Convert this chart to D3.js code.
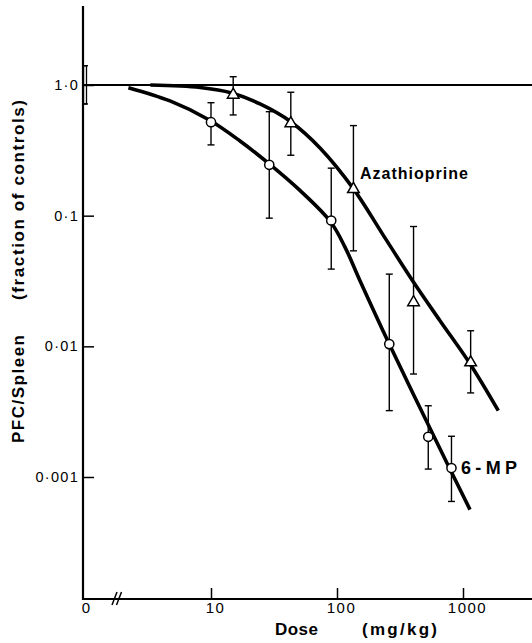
<!DOCTYPE html>
<html><head><meta charset="utf-8">
<script src="https://cdn.jsdelivr.net/npm/d3@7"></script>
<style>html,body{margin:0;padding:0;background:#fff;} svg{display:block;}</style>
</head><body><svg id="c" width="532" height="643"></svg>
<script>
// ---- data ----
const yTickValues = [1, 0.1, 0.01, 0.001];
const yTickLabels = ["1·0", "0·1", "0·01", "0·001"];
const xTickValues = [10, 100, 1000];
const xTickLabels = ["10", "100", "1000"];
const xZeroLabel = "0";

const controlValue = 1.0, controlLo = 0.716, controlHi = 1.405;

const azaDose  = [15, 43, 135, 405, 1150];
const azaValue = [0.84, 0.509, 0.1595, 0.0217, 0.00753];
const azaHi    = [1.157, 0.88, 0.489, 0.0826, 0.01316];
const azaLo    = [0.59, 0.29, 0.0538, 0.00614, 0.0044];

const mpDose  = [10, 29, 90, 260, 530, 810];
const mpValue = [0.519, 0.245, 0.0918, 0.0104, 0.00203, 0.00117];
const mpHi    = [0.732, 0.625, 0.231, 0.0357, 0.00351, 0.00205];
const mpLo    = [0.348, 0.0957, 0.039, 0.00322, 0.00115, 0.00065];

const azaCurveDose  = [3.3, 8.2, 14.6, 24.5, 42.9, 73.3, 134.7, 232, 403, 657, 1136, 1906];
const azaCurveValue = [1.0, 0.957, 0.869, 0.716, 0.524, 0.330, 0.161, 0.0713, 0.0312, 0.0157, 0.00736, 0.00322];
const mpCurveDose  = [2.21, 4.73, 9.69, 17.0, 29.0, 50.8, 89.1, 115.7, 152.2, 258.7, 588.6, 1136];
const mpCurveValue = [0.954, 0.755, 0.540, 0.373, 0.249, 0.156, 0.0895, 0.0575, 0.0318, 0.0105, 0.00204, 0.000563];

const azaLabel = "Azathioprine";
const mpLabel = "6-MP";
const yTitleA = "PFC/Spleen";
const yTitleB = "(fraction of controls)";
const xTitleA = "Dose";
const xTitleB = "(mg/kg)";

// ---- layout ----
const svg = d3.select("#c");
const axisX = 83, axisY = 599, topY = 6, rightX = 532;
const x = d3.scaleLog().domain([10, 1000]).range([211, 463]);
const y = d3.scaleLog().domain([0.001, 1]).range([477, 85]);
const xZero = 85;
const FONT = "'Liberation Sans', Arial, Helvetica, sans-serif";

// reference line at 1.0
svg.append("line").attr("x1", axisX).attr("x2", rightX)
  .attr("y1", y(1)).attr("y2", y(1)).attr("stroke", "#000").attr("stroke-width", 1.8);

// curves
const line = d3.line().x(d => x(d[0])).y(d => y(d[1])).curve(d3.curveCatmullRom.alpha(0.5));
svg.append("path").datum(azaCurveDose.map((d, i) => [d, azaCurveValue[i]]))
  .attr("d", line).attr("fill", "none").attr("stroke", "#000").attr("stroke-width", 3.6);
svg.append("path").datum(mpCurveDose.map((d, i) => [d, mpCurveValue[i]]))
  .attr("d", line).attr("fill", "none").attr("stroke", "#000").attr("stroke-width", 3.6);

// error bars
function errBars(dose, hi, lo) {
  const g = svg.append("g").attr("stroke", "#000").attr("stroke-width", 1.4);
  dose.forEach((d, i) => {
    const cx = x(d);
    g.append("line").attr("x1", cx).attr("x2", cx).attr("y1", y(hi[i])).attr("y2", y(lo[i]));
    g.append("line").attr("x1", cx - 3.5).attr("x2", cx + 3.5).attr("y1", y(hi[i])).attr("y2", y(hi[i]));
    g.append("line").attr("x1", cx - 3.5).attr("x2", cx + 3.5).attr("y1", y(lo[i])).attr("y2", y(lo[i]));
  });
}
errBars(azaDose, azaHi, azaLo);
errBars(mpDose, mpHi, mpLo);

// control bar at dose 0
svg.append("rect").attr("x", xZero - 1.5).attr("width", 3)
  .attr("y", y(controlHi)).attr("height", y(controlLo) - y(controlHi))
  .attr("fill", "none").attr("stroke", "#000").attr("stroke-width", 1.3);
[controlHi, controlLo].forEach(v => svg.append("line")
  .attr("x1", xZero - 2.5).attr("x2", xZero + 3).attr("y1", y(v)).attr("y2", y(v))
  .attr("stroke", "#000").attr("stroke-width", 1.4));

// markers
svg.append("g").selectAll("path").data(azaDose.map((d, i) => [d, azaValue[i]])).join("path")
  .attr("d", d3.symbol(d3.symbolTriangle, 58))
  .attr("transform", d => `translate(${x(d[0])},${y(d[1])})`)
  .attr("fill", "#fff").attr("stroke", "#000").attr("stroke-width", 1.5);
svg.append("g").selectAll("circle").data(mpDose.map((d, i) => [d, mpValue[i]])).join("circle")
  .attr("cx", d => x(d[0])).attr("cy", d => y(d[1])).attr("r", 4.6)
  .attr("fill", "#fff").attr("stroke", "#000").attr("stroke-width", 1.5);

// axes lines
svg.append("line").attr("x1", axisX).attr("x2", axisX).attr("y1", topY).attr("y2", axisY + 1)
  .attr("stroke", "#000").attr("stroke-width", 2.2);
svg.append("line").attr("x1", axisX - 1).attr("x2", rightX).attr("y1", axisY).attr("y2", axisY)
  .attr("stroke", "#000").attr("stroke-width", 2.2);

// axis break
[0, 4.5].forEach(o => svg.append("line")
  .attr("x1", 112 + o).attr("y1", axisY + 6).attr("x2", 117 + o).attr("y2", axisY - 7)
  .attr("stroke", "#000").attr("stroke-width", 1.5));

// y axis ticks
const yAxis = d3.axisLeft(y).tickValues(yTickValues).tickFormat((d, i) => yTickLabels[i])
  .tickSize(-11).tickPadding(4).tickSizeOuter(0);
const gy = svg.append("g").attr("transform", `translate(${axisX},0)`).call(yAxis);
gy.select(".domain").remove();
gy.selectAll(".tick line").attr("stroke", "#000").attr("stroke-width", 1.5);
gy.selectAll(".tick text").attr("font-family", FONT).attr("font-size", 14.5)
  .attr("letter-spacing", 1.3).attr("fill", "#000");

// x axis ticks
const xAxis = d3.axisBottom(x).tickValues(xTickValues).tickFormat((d, i) => xTickLabels[i])
  .tickSize(-11).tickPadding(3.5).tickSizeOuter(0);
const gx = svg.append("g").attr("transform", `translate(0,${axisY})`).call(xAxis);
gx.select(".domain").remove();
gx.selectAll(".tick line").attr("stroke", "#000").attr("stroke-width", 1.5);
gx.selectAll(".tick text").attr("font-family", FONT).attr("font-size", 15)
  .attr("letter-spacing", 1.5).attr("dx", 4).attr("fill", "#000");
gx.append("text").attr("x", xZero + 1).attr("y", 3.5).attr("dy", "0.71em")
  .attr("text-anchor", "middle").attr("font-family", FONT).attr("font-size", 15)
  .attr("fill", "#000").text(xZeroLabel);

// titles
function title(txt, px, py, len, size, rot) {
  svg.append("text").attr("transform", `translate(${px},${py}) rotate(${rot})`)
    .attr("text-anchor", "middle").attr("font-family", FONT).attr("font-weight", "bold")
    .attr("font-size", size).attr("textLength", len).attr("lengthAdjust", "spacing")
    .attr("fill", "#000").text(txt);
}
title(yTitleA, 24, 389, 108, 17, -90);
title(yTitleB, 24, 200, 200, 17, -90);
title(xTitleA, 296.5, 635, 43, 17, 0);
title(xTitleB, 399.5, 635, 75, 17, 0);

// series labels
svg.append("text").attr("x", 360).attr("y", 179).attr("font-family", FONT).attr("font-weight", "bold")
  .attr("font-size", 16).attr("textLength", 108).attr("lengthAdjust", "spacing").text(azaLabel);
svg.append("text").attr("x", 461).attr("y", 474).attr("font-family", FONT).attr("font-weight", "bold")
  .attr("font-size", 18).attr("textLength", 56).attr("lengthAdjust", "spacing").text(mpLabel);
</script></body></html>
